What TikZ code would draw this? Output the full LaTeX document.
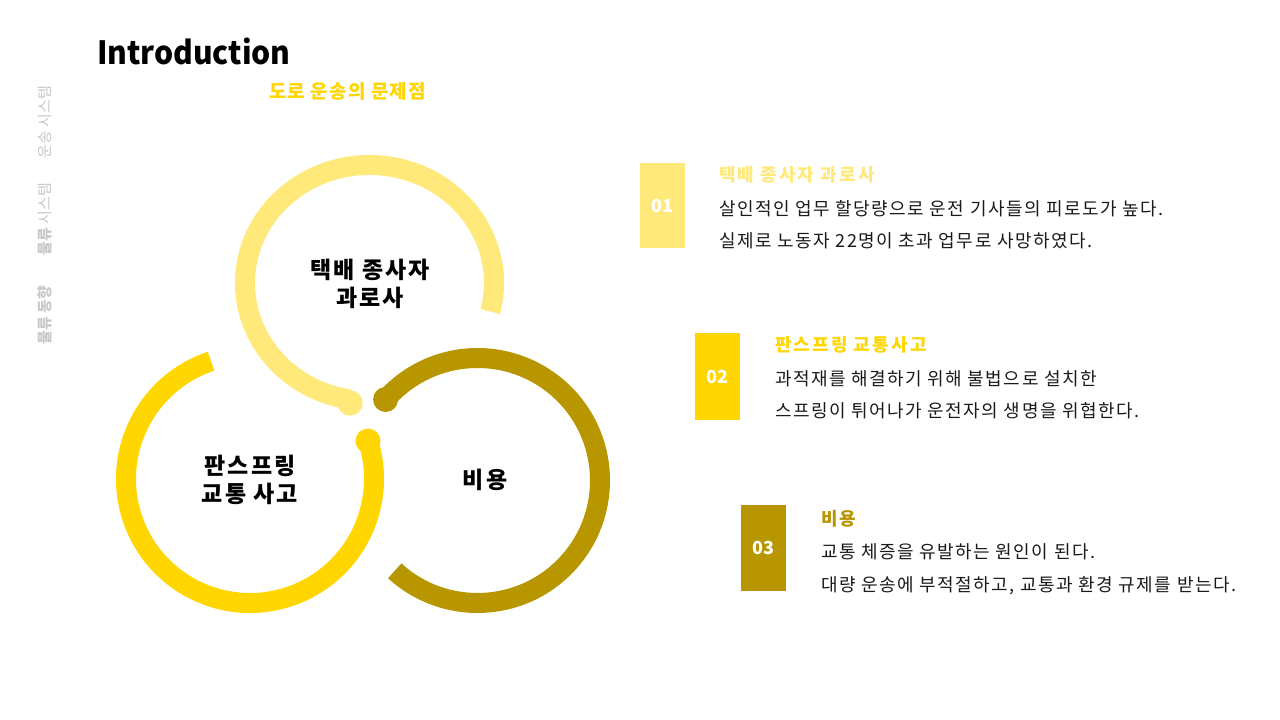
\documentclass[tikz,border=0pt]{standalone}
\usepackage{fontspec}
\usetikzlibrary{calc}
\setmainfont{Noto Sans CJK KR}
\definecolor{lightyel}{HTML}{FFE97B}
\definecolor{goldyel}{HTML}{FFD600}
\definecolor{darkgold}{HTML}{B89600}
\definecolor{sidegray}{HTML}{C8C8C8}
\definecolor{bodytext}{HTML}{1A1A1A}
\tikzset{
  ring/.style={line width=20pt},
  txt/.style={inner sep=0pt, outer sep=0pt},
  heading/.style={txt, anchor=west, font=\fontsize{18}{20}\selectfont\bfseries\addfontfeature{LetterSpace=12}},
  body/.style={txt, anchor=west, text=bodytext, font=\fontsize{18}{20}\selectfont\addfontfeature{LetterSpace=8.4}},
  numbox/.style={inner sep=0pt, minimum width=45pt, text=white, font=\fontsize{18}{20}\selectfont\bfseries},
  circlabel/.style={txt, align=center, font=\fontsize{23}{28}\selectfont\bfseries\addfontfeature{LetterSpace=9}},
  sidelabel/.style={txt, rotate=90, text=sidegray, font=\fontsize{15}{17}\selectfont}
}
\begin{document}
\begin{tikzpicture}[x=1pt,y=1pt]
\useasboundingbox (0,0) rectangle (1280,720);
\fill[white] (0,0) rectangle (1280,720);

% title
\node[txt, anchor=base west, xscale=0.94, font=\fontsize{32}{38}\selectfont\bfseries] (title) at (97,655) {Introduction};
\node[txt, text=goldyel, font=\fontsize{19}{22}\selectfont\bfseries\addfontfeature{LetterSpace=6}] (subtitle) at (347.5,629) {도로 운송의 문제점};

% side labels
\node[sidelabel] (side1) at (45,598) {운송 시스템};
\node[sidelabel] (side2) at (45,501) {{\bfseries 물류} 시스템};
\node[sidelabel, font=\fontsize{15}{17}\selectfont\bfseries] (side3) at (45,405) {물류 동향};

% rings
\coordinate (c1) at (369.5,437);
\coordinate (c2) at (250,241);
\coordinate (c3) at (477.5,239.5);
\draw[ring, lightyel] ($(c1)+({124.5*cos(-14)},{118*sin(-14)})$) arc[start angle=-14, end angle=261, x radius=124.5, y radius=118];
\fill[lightyel] (350,317) circle (12.7);
\draw[ring, goldyel] ([shift={(108.3:124)}]c2) arc[start angle=108.3, end angle=377.8, radius=124];
\fill[goldyel] ([shift={(17.8:124)}]c2) circle (12.5);
\draw[ring, darkgold] ([shift={(-132.5:122.5)}]c3) arc[start angle=-132.5, end angle=138.6, radius=122.5];
\fill[darkgold] ([shift={(138.6:122.5)}]c3) circle (12.5);

\node[circlabel] (l1) at (370,436) {택배 종사자\\과로사};
\node[circlabel] (l2) at (250,240) {판스프링\\교통 사고};
\node[circlabel] (l3) at (485,240) {비용};

% item 01
\node[numbox, fill=lightyel, minimum height=85pt] (n1) at (662.5,514.5) {01};
\node[heading, text=lightyel] (h1) at (719,545) {택배 종사자 과로사};
\node[body] (b1a) at (719,511) {살인적인 업무 할당량으로 운전 기사들의 피로도가 높다.};
\node[body] (b1b) at (719,479) {실제로 노동자 22명이 초과 업무로 사망하였다.};

% item 02
\node[numbox, fill=goldyel, minimum height=87pt] (n2) at (717.5,343.5) {02};
\node[heading, text=goldyel] (h2) at (775,375) {판스프링 교통사고};
\node[body] (b2a) at (775,341) {과적재를 해결하기 위해 불법으로 설치한};
\node[body] (b2b) at (775,309) {스프링이 튀어나가 운전자의 생명을 위협한다.};

% item 03
\node[numbox, fill=darkgold, minimum height=86pt] (n3) at (763.5,172) {03};
\node[heading, text=darkgold] (h3) at (821,201) {비용};
\node[body] (b3a) at (821,168) {교통 체증을 유발하는 원인이 된다.};
\node[body] (b3b) at (821,134) {대량 운송에 부적절하고, 교통과 환경 규제를 받는다.};
\end{tikzpicture}
\end{document}
